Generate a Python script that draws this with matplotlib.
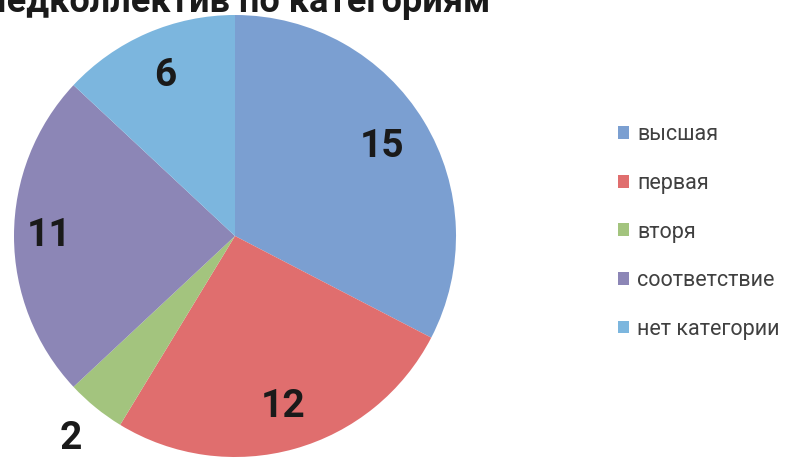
import numpy as np
import matplotlib
matplotlib.use("Agg")
import matplotlib.pyplot as plt
from matplotlib.patches import Patch

plt.rcParams['font.family'] = ['Roboto', 'DejaVu Sans']

# data
categories = ['высшая', 'первая', 'вторя', 'соответствие', 'нет категории']
values = [15, 12, 2, 11, 6]
colors = ['#7b9fd1', '#e06e6e', '#a3c47e', '#8c86b6', '#7cb6de']
title = 'Педколлектив по категориям'

W, H = 799, 459
fig = plt.figure(figsize=(W / 100, H / 100), dpi=100)

# pie placed by pixel centre / radius
cx, cy, r = 235, 236, 221
ax = fig.add_axes([(cx - r) / W, (H - cy - r) / H, 2 * r / W, 2 * r / H])
wedges, _ = ax.pie(values, colors=colors, startangle=90, counterclock=False,
                   radius=1.0, wedgeprops=dict(linewidth=0))
ax.set_xlim(-1, 1)
ax.set_ylim(-1, 1)
ax.set_aspect('equal')
ax.axis('off')

# value labels
dist = [0.78, 0.80, 1.18, 0.84, 0.79]
for w, v, d in zip(wedges, values, dist):
    ang = np.deg2rad((w.theta1 + w.theta2) / 2)
    ax.text(d * np.cos(ang), d * np.sin(ang), str(v), ha='center', va='center',
            fontsize=28, fontweight='bold', color='#1a1a1a', clip_on=False)

# title, cut off at the top edge
fig.text(490 / W, (H - 12) / H, title, ha='right', va='baseline',
         fontsize=26, fontweight='bold', color='#1a1a1a')

handles = [Patch(facecolor=c, edgecolor='none') for c in colors]
fig.legend(handles, categories, loc='center left',
           bbox_to_anchor=(618 / W, (H - 232) / H), frameon=False,
           fontsize=15.5, labelspacing=1.28, handlelength=0.5, handleheight=0.55,
           handletextpad=0.4, borderpad=0, borderaxespad=0,
           labelcolor='#404040')

fig.savefig('out.png', dpi=100)
